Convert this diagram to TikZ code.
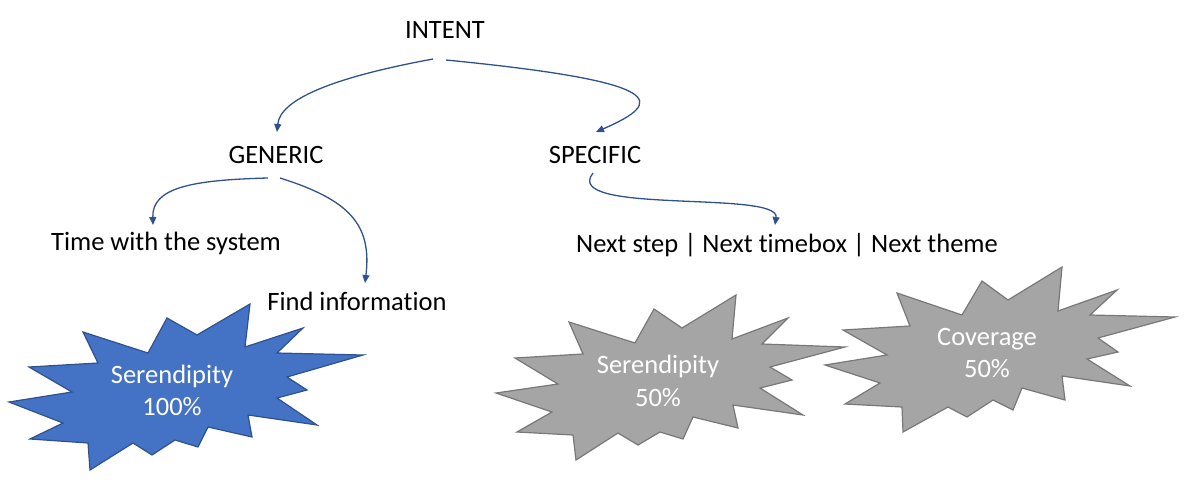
\documentclass[tikz,border=0pt]{standalone}
\usepackage{fontspec}
\setmainfont{Carlito}[Ligatures=NoCommon]
\usetikzlibrary{arrows.meta}
\definecolor{arrowc}{RGB}{47,82,143}
\definecolor{starblue}{RGB}{68,114,196}
\definecolor{starblueline}{RGB}{47,82,143}
\definecolor{stargray}{RGB}{165,165,165}
\definecolor{stargrayline}{RGB}{120,120,120}
\begin{document}
\begin{tikzpicture}[x=1pt,y=-1pt,
 lbl/.style={inner sep=0pt, anchor=base, font=\fontsize{26.5}{32}\selectfont, text=black},
 starlbl/.style={inner sep=0pt, anchor=base, align=center, font=\fontsize{26.5}{32.5}\selectfont, text=white},
 conn/.style={draw=arrowc, line width=1.3pt, -{Triangle[length=8pt,width=7pt]}},
 bluestar/.style={fill=starblue, draw=starblueline, line width=1.2pt, line join=miter},
 graystar/.style={fill=stargray, draw=stargrayline, line width=1.2pt, line join=miter}]
\useasboundingbox (0,0) rectangle (1200,488);

% starbursts
\draw[bluestar] (9,402) -- (72,392) -- (29,367) -- (98,363) -- (83,332) -- (148,353) -- (167,318) -- (197,335) -- (250,304) -- (245,347) -- (303,328) -- (277,353) -- (363,355) -- (287,377) -- (307,390) -- (277,398) -- (317,425) -- (248,415) -- (252,437) -- (208,427) -- (198,447) -- (175,440) -- (152,455) -- (133,443) -- (90,470) -- (88,443) -- (30,439) -- (63,423) -- cycle;

\draw[graystar] (496,393) -- (558,384) -- (515,358) -- (583,354) -- (569,322) -- (635,343) -- (654,309) -- (682,328) -- (736,295) -- (732,339) -- (788,318) -- (762,344) -- (845,347) -- (770,367) -- (792,380) -- (760,388) -- (803,415) -- (733,405) -- (738,428) -- (693,417) -- (683,439) -- (660,432) -- (638,445) -- (618,433) -- (576,460) -- (573,435) -- (517,432) -- (552,412) -- cycle;

\draw[graystar] (825,365) -- (887,355) -- (843,330) -- (910,326) -- (897,293) -- (962,315) -- (982,281) -- (1008,300) -- (1062,267) -- (1058,311) -- (1117,290) -- (1090,315) -- (1175,317) -- (1098,338) -- (1118,352) -- (1087,359) -- (1130,386) -- (1062,376) -- (1065,400) -- (1022,388) -- (1013,410) -- (993,400) -- (967,417) -- (948,407) -- (903,432) -- (902,407) -- (845,404) -- (880,383) -- cycle;

% labels inside the stars (base anchor = baseline of the last line)
\node[starlbl] (s1) at (172,415.5) {Serendipity\\100\%};
\node[starlbl] (s2) at (658,406) {Serendipity\\50\%};
\node[starlbl] (s3) at (987,377.5) {Coverage\\50\%};

% text nodes
\node[lbl] (intent) at (445,38) {INTENT};
\node[lbl] (generic) at (276,163) {GENERIC};
\node[lbl] (specific) at (595,163) {SPECIFIC};
\node[lbl] (time) at (166,250) {Time with the system};
\node[lbl] (find) at (357,310) {Find information};
\node[lbl] (next) at (787,252) {Next step | Next timebox | Next theme};

% connectors
\draw[conn] ([shift={(-12,21)}]intent.base) .. controls (330,78) and (280,100) .. ([shift={(1,-31)}]generic.base);
\draw[conn] ([shift={(1,22)}]intent.base) .. controls (670,82) and (665,102) .. ([shift={(1,-31)}]specific.base);
\draw[conn] ([shift={(-8,15)}]generic.base) .. controls (190,180) and (152,188) .. ([shift={(-13,-25)}]time.base);
\draw[conn] ([shift={(4,15)}]generic.base) .. controls (350,200) and (372,225) .. ([shift={(8,-27)}]find.base);
\draw[conn] ([shift={(-2,10)}]specific.base) .. controls (560,215) and (780,190) .. ([shift={(-12,-27)}]next.base);
\end{tikzpicture}
\end{document}
